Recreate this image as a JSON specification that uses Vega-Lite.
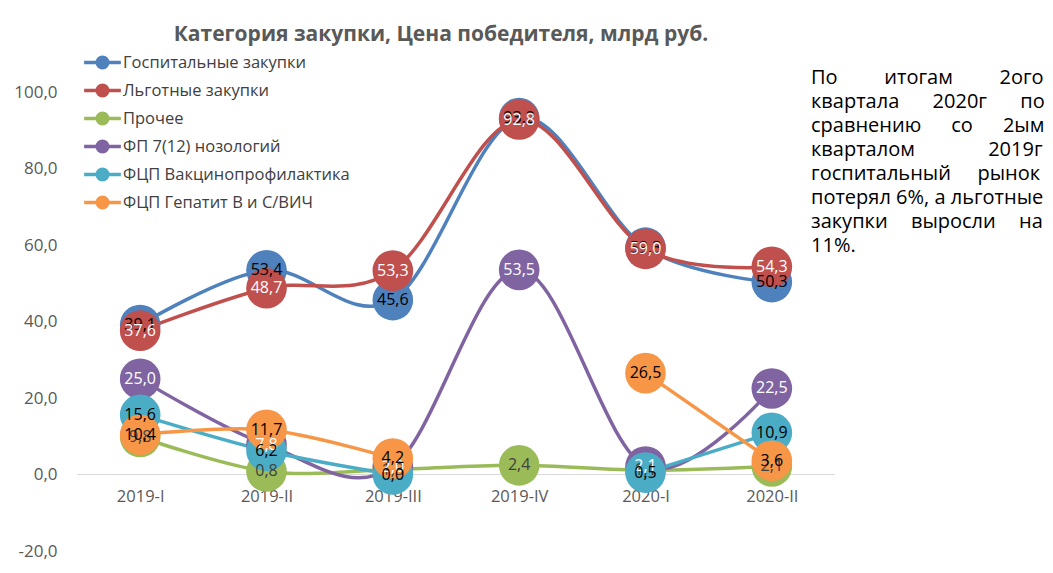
{
  "$schema": "https://vega.github.io/schema/vega-lite/v6.json",
  "padding": {"left": 13, "top": 24, "right": 5, "bottom": 5},
  "bounds": "flush",
  "datasets": {
    "sales": [
      {"q": "2019-I", "series": "Госпитальные закупки", "v": 39.1},
      {"q": "2019-II", "series": "Госпитальные закупки", "v": 53.4},
      {"q": "2019-III", "series": "Госпитальные закупки", "v": 45.6},
      {"q": "2019-IV", "series": "Госпитальные закупки", "v": 93.2},
      {"q": "2020-I", "series": "Госпитальные закупки", "v": 59.3},
      {"q": "2020-II", "series": "Госпитальные закупки", "v": 50.3},
      {"q": "2019-I", "series": "Льготные закупки", "v": 37.6},
      {"q": "2019-II", "series": "Льготные закупки", "v": 48.7},
      {"q": "2019-III", "series": "Льготные закупки", "v": 53.3},
      {"q": "2019-IV", "series": "Льготные закупки", "v": 92.8},
      {"q": "2020-I", "series": "Льготные закупки", "v": 59.0},
      {"q": "2020-II", "series": "Льготные закупки", "v": 54.3},
      {"q": "2019-I", "series": "Прочее", "v": 9.8},
      {"q": "2019-II", "series": "Прочее", "v": 0.8},
      {"q": "2019-III", "series": "Прочее", "v": 1.3},
      {"q": "2019-IV", "series": "Прочее", "v": 2.4},
      {"q": "2020-I", "series": "Прочее", "v": 1.1},
      {"q": "2020-II", "series": "Прочее", "v": 2.1},
      {"q": "2019-I", "series": "ФП 7(12) нозологий", "v": 25.0},
      {"q": "2019-II", "series": "ФП 7(12) нозологий", "v": 7.8},
      {"q": "2019-III", "series": "ФП 7(12) нозологий", "v": 2.0},
      {"q": "2019-IV", "series": "ФП 7(12) нозологий", "v": 53.5},
      {"q": "2020-I", "series": "ФП 7(12) нозологий", "v": 2.1},
      {"q": "2020-II", "series": "ФП 7(12) нозологий", "v": 22.5},
      {"q": "2019-I", "series": "ФЦП Вакцинопрофилактика", "v": 15.6},
      {"q": "2019-II", "series": "ФЦП Вакцинопрофилактика", "v": 6.2},
      {"q": "2019-III", "series": "ФЦП Вакцинопрофилактика", "v": 0.0},
      {"q": "2019-IV", "series": "ФЦП Вакцинопрофилактика", "v": null},
      {"q": "2020-I", "series": "ФЦП Вакцинопрофилактика", "v": 0.5},
      {"q": "2020-II", "series": "ФЦП Вакцинопрофилактика", "v": 10.9},
      {"q": "2019-I", "series": "ФЦП Гепатит В и С/ВИЧ", "v": 10.4},
      {"q": "2019-II", "series": "ФЦП Гепатит В и С/ВИЧ", "v": 11.7},
      {"q": "2019-III", "series": "ФЦП Гепатит В и С/ВИЧ", "v": 4.2},
      {"q": "2019-IV", "series": "ФЦП Гепатит В и С/ВИЧ", "v": null},
      {"q": "2020-I", "series": "ФЦП Гепатит В и С/ВИЧ", "v": 26.5},
      {"q": "2020-II", "series": "ФЦП Гепатит В и С/ВИЧ", "v": 3.6}
    ],
    "note": [
      {"line": 1, "text": "По\u2003\u2003\u2004итогам\u2003\u2003\u20042ого"},
      {"line": 2, "text": "квартала\u2003\u2002\u20092020г\u2003\u2002\u2009по"},
      {"line": 3, "text": "сравнению\u2003\u2002со\u2003\u20022ым"},
      {"line": 4, "text": "кварталом\u2003\u2003\u2003\u2002\u20092019г"},
      {"line": 5, "text": "госпитальный\u2003\u2004рынок"},
      {"line": 6, "text": "потерял 6%, а льготные"},
      {"line": 7, "text": "закупки\u2003\u2009выросли\u2003\u2009на"},
      {"line": 8, "text": "11%."}
    ]
  },
  "hconcat": [
    {
      "width": 758,
      "height": 459,
      "title": {
        "text": "Категория закупки, Цена победителя, млрд руб.",
        "font": "Open Sans",
        "fontSize": 21,
        "fontWeight": "bold",
        "color": "#595959",
        "anchor": "middle",
        "dx": -15,
        "offset": 38
      },
      "data": {"name": "sales"},
      "encoding": {
        "x": {
          "field": "q",
          "type": "ordinal",
          "sort": null,
          "scale": {"type": "point", "padding": 0.5},
          "axis": {
            "title": null,
            "orient": "bottom",
            "offset": -76.5,
            "domain": false,
            "ticks": false,
            "labelAngle": 0,
            "labelPadding": 14,
            "labelFont": "Open Sans",
            "labelFontSize": 16.5,
            "labelColor": "#595959"
          }
        },
        "y": {
          "field": "v",
          "type": "quantitative",
          "scale": {"domain": [-20, 100], "nice": false, "zero": false},
          "axis": {
            "title": null,
            "values": [-20, 0, 20, 40, 60, 80, 100],
            "format": ".1f",
            "domain": false,
            "ticks": false,
            "grid": false,
            "labelPadding": 20,
            "labelFont": "Open Sans",
            "labelFontSize": 17,
            "labelColor": "#595959"
          }
        }
      },
      "layer": [
        {
          "mark": {"type": "rule", "color": "#d9d9d9", "strokeWidth": 1},
          "encoding": {"x": null, "y": {"datum": 0, "type": "quantitative"}}
        },
        {
          "mark": {
            "type": "line",
            "interpolate": "cardinal",
            "strokeWidth": 3.5,
            "invalid": "break-paths-filter-domains"
          },
          "encoding": {
            "color": {
              "field": "series",
              "type": "nominal",
              "scale": {
                "domain": [
                  "Госпитальные закупки",
                  "Льготные закупки",
                  "Прочее",
                  "ФП 7(12) нозологий",
                  "ФЦП Вакцинопрофилактика",
                  "ФЦП Гепатит В и С/ВИЧ"
                ],
                "range": ["#4F81BD", "#C0504D", "#9BBB59", "#8064A2", "#4BACC6", "#F79646"]
              },
              "legend": {
                "title": null,
                "orient": "none",
                "legendX": 10,
                "legendY": -45,
                "padding": 0,
                "symbolType": "M-1.36,0L1.36,0M-0.39,0A0.39,0.39 0 1,1 0.39,0A0.39,0.39 0 1,1 -0.39,0Z",
                "symbolSize": 730,
                "symbolStrokeWidth": 3.5,
                "labelFont": "Open Sans",
                "labelFontSize": 16.5,
                "labelColor": "#404040",
                "labelLimit": 400,
                "labelOffset": 5,
                "rowPadding": 0,
                "encode": {
                  "symbols": {"update": {"fill": {"scale": "color", "field": "value"}}}
                }
              }
            }
          }
        },
        {
          "mark": {"type": "circle", "size": 1650, "opacity": 1},
          "encoding": {
            "color": {"field": "series", "type": "nominal", "legend": null}
          }
        },
        {
          "mark": {"type": "text", "font": "Open Sans", "fontSize": 16, "baseline": "middle"},
          "encoding": {
            "text": {"field": "v", "type": "quantitative", "format": ".1f"},
            "color": {
              "condition": [
                {"test": "datum.series === 'Льготные закупки' || datum.series === 'ФП 7(12) нозологий'", "value": "white"},
                {"test": "datum.series === 'Прочее'", "value": "#404040"}
              ],
              "value": "black"
            }
          }
        }
      ]
    },
    {
      "width": 232,
      "height": 240,
      "data": {"name": "note"},
      "mark": {
        "type": "text",
        "align": "left",
        "baseline": "middle",
        "font": "Open Sans",
        "fontSize": 20,
        "color": "black"
      },
      "encoding": {
        "x": {"datum": 0, "type": "quantitative", "scale": {"domain": [0.1034, 1.1034]}, "axis": null},
        "y": {
          "field": "line",
          "type": "quantitative",
          "scale": {"domain": [1.58, 11.58], "reverse": true, "nice": false, "zero": false},
          "axis": null
        },
        "text": {"field": "text"}
      }
    }
  ],
  "spacing": 0,
  "config": {
    "view": {"stroke": null},
    "locale": {
      "number": {
        "decimal": ",",
        "thousands": " ",
        "grouping": [3],
        "currency": ["", " ₽"],
        "minus": "-"
      }
    }
  }
}
